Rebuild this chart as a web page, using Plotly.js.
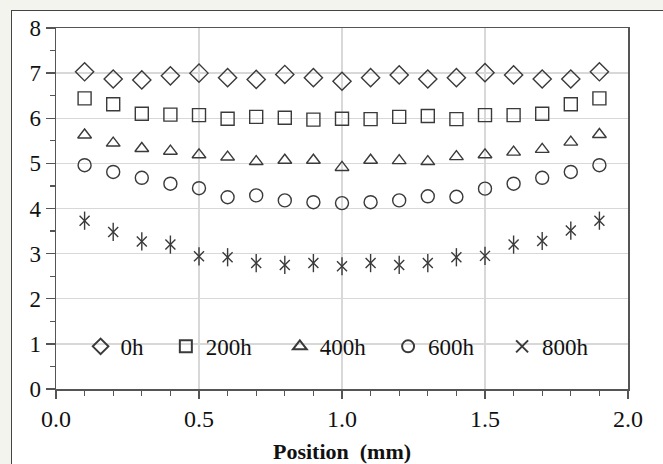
<!DOCTYPE html>
<html>
<head>
<meta charset="utf-8">
<script src="https://cdn.plot.ly/plotly-3.0.1.min.js"></script>
<style>
html,body{margin:0;padding:0;background:#f4f4ef;width:663px;height:464px;overflow:hidden;}
#frame{position:absolute;left:11px;top:10px;width:700px;height:500px;background:#fff;border:1.5px solid #444;box-sizing:border-box;}
#chart{position:absolute;left:0;top:0;width:663px;height:464px;}
</style>
</head>
<body>
<div id="frame"></div>
<div id="chart"></div>
<script>
const positions = [0.1,0.2,0.3,0.4,0.5,0.6,0.7,0.8,0.9,1.0,1.1,1.2,1.3,1.4,1.5,1.6,1.7,1.8,1.9];
const seriesNames = ["0h","200h","400h","600h","800h"];
const h0   = [7.03,6.87,6.85,6.94,7.00,6.90,6.86,6.97,6.90,6.82,6.90,6.96,6.87,6.90,7.01,6.96,6.87,6.87,7.03];
const h200 = [6.44,6.31,6.10,6.08,6.07,5.99,6.03,6.01,5.97,5.99,5.98,6.03,6.05,5.98,6.07,6.07,6.10,6.31,6.44];
const h400 = [5.63,5.45,5.33,5.27,5.19,5.14,5.04,5.07,5.07,4.91,5.07,5.06,5.04,5.15,5.19,5.25,5.31,5.47,5.64];
const h600 = [4.96,4.81,4.68,4.55,4.45,4.25,4.29,4.18,4.14,4.12,4.14,4.18,4.27,4.26,4.44,4.55,4.68,4.81,4.96];
const h800 = [3.73,3.48,3.27,3.20,2.94,2.92,2.79,2.75,2.79,2.72,2.79,2.75,2.79,2.92,2.95,3.20,3.28,3.51,3.73];
const xTicks = [0,0.5,1,1.5,2];
const xTickText = ["0.0","0.5","1.0","1.5","2.0"];
const yTicks = [0,1,2,3,4,5,6,7,8];

const ink = '#3a3a3a';
const pad = ['\u00a0\u00a0\u00a0', '\u00a0\u00a0\u00a0\u00a0', '\u00a0\u00a0\u00a0', '\u00a0\u00a0\u00a0\u00a0', ''];
function tr(y, i, sym, size, show){
  return {x: positions, y: y, name: seriesNames[i] + pad[i], type:'scatter', mode:'markers',
    showlegend: show, legendgroup: 'g' + i,
    marker:{symbol: sym, size: size, color: ink, line:{color: ink, width: 1.4}},
    hoverinfo:'skip'};
}
const data = [
  tr(h0, 0, 'diamond-open', 14, true),
  tr(h200, 1, 'square-open', 13, true),
  tr(h400, 2, 'triangle-up-open', 12, true),
  tr(h600, 3, 'circle-open', 13, true),
  tr(h800, 4, 'x-thin-open', 10, true),
  tr(h800, 4, 'line-ns-open', 13, false)
];
const serif = "'Liberation Serif', 'Times New Roman', Times, serif";
const layout = {
  width: 663, height: 464,
  paper_bgcolor: 'rgba(0,0,0,0)', plot_bgcolor: '#fff',
  margin: {l: 56, r: 35, t: 28, b: 75},
  showlegend: true,
  legend: {orientation: 'h', x: 0.043, y: 0.118, xanchor: 'left', yanchor: 'middle',
    bgcolor: 'rgba(0,0,0,0)', font: {family: serif, size: 23, color: '#111'},
    itemwidth: 30, itemsizing: 'constant', tracegroupgap: 0},
  xaxis: {range: [0, 2], tickvals: xTicks, ticktext: xTickText, ticks: 'outside', ticklen: 8,
    tickcolor: '#555', tickwidth: 1.3,
    showgrid: true, gridcolor: '#d8d8d8', gridwidth: 1.3,
    showline: true, linecolor: '#555', linewidth: 1.5, mirror: true, zeroline: false,
    minor: {dtick: 0.1, ticks: 'outside', ticklen: 5, tickcolor: '#555', tickwidth: 1.3, showgrid: false},
    tickfont: {family: serif, size: 24, color: '#111'},
    title: {text: '<b>Position  (mm)</b>', font: {family: serif, size: 22, color: '#111'}, standoff: 12}},
  yaxis: {range: [0, 8], tickvals: yTicks, ticks: 'outside', ticklen: 9,
    tickcolor: '#555', tickwidth: 1.3,
    showgrid: true, gridcolor: '#d8d8d8', gridwidth: 1.3,
    showline: true, linecolor: '#555', linewidth: 1.5, mirror: true, zeroline: false,
    minor: {dtick: 0.5, ticks: 'outside', ticklen: 5, tickcolor: '#555', tickwidth: 1.3, showgrid: false},
    tickfont: {family: serif, size: 23, color: '#111'}}
};
Plotly.newPlot('chart', data, layout, {staticPlot: true, displayModeBar: false});
</script>
</body>
</html>
